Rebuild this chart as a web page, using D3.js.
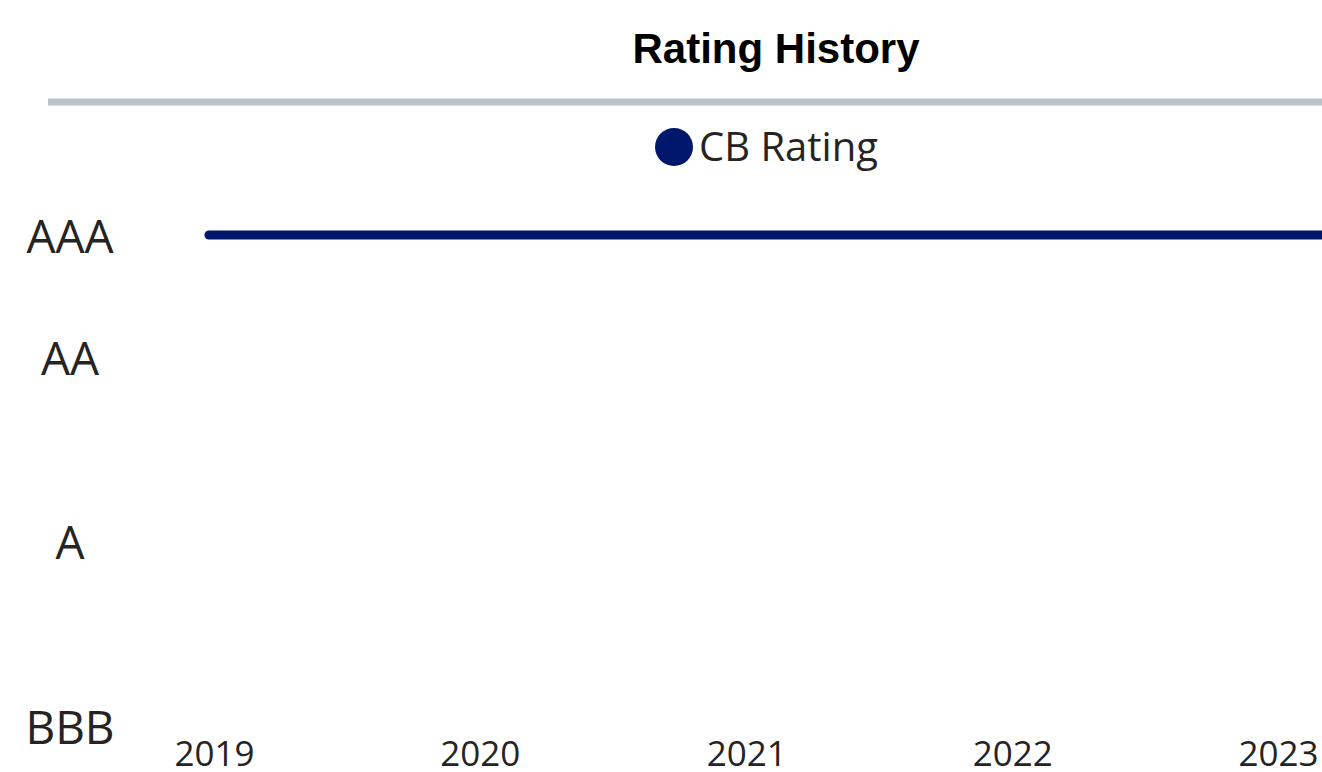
<!DOCTYPE html>
<html>
<head>
<meta charset="utf-8">
<script src="https://cdn.jsdelivr.net/npm/d3@7"></script>
<style>
  html, body { margin: 0; padding: 0; background: #fff; }
  svg { display: block; }
  .title { font-family: "Liberation Sans", Arial, sans-serif; font-weight: bold; }
  .lbl { font-family: "Segoe UI", "Open Sans", "Noto Sans", sans-serif; fill: #252423; }
</style>
</head>
<body>
<div id="chart"></div>
<script>
// rating notches, top to bottom
const ratingScale = ['AAA', 'AA+', 'AA', 'AA-', 'A+', 'A', 'A-', 'BBB+', 'BBB'];
const axisRatings = ['AAA', 'AA', 'A', 'BBB'];
const years = [2019, 2020, 2021, 2022, 2023];

// CB Rating series
const dates = ['2018-12-25', '2024-12-31'];
const ratings = ['AAA', 'AAA'];

const W = 1322, H = 772;
const NAVY = '#00176b';

const svg = d3.select('#chart').append('svg')
  .attr('width', W)
  .attr('height', H);

svg.append('text')
  .classed('title', true)
  .attr('x', 776).attr('y', 63)
  .attr('text-anchor', 'middle')
  .style('font-size', '42px')
  .text('Rating History');

svg.append('line')
  .attr('x1', 48).attr('x2', W + 10)
  .attr('y1', 102).attr('y2', 102)
  .attr('stroke', '#bac3c8')
  .attr('stroke-width', 7);

// legend
const legend = svg.append('g').attr('transform', 'translate(674, 147)');
legend.append('circle').attr('r', 19).attr('fill', NAVY);
legend.append('text')
  .classed('lbl', true)
  .attr('x', 25).attr('dy', '0.35em')
  .style('font-size', '40px')
  .text('CB Rating');

const parse = d3.timeParse('%Y-%m-%d');
const x = d3.scaleTime()
  .domain([new Date(2019, 0, 1), new Date(2023, 0, 1)])
  .range([214, 1278]);
const y = d3.scaleLinear()
  .domain([0, ratingScale.length - 1])
  .range([236, 727]);

const xg = svg.append('g')
  .attr('transform', 'translate(0, 766)')
  .call(d3.axisBottom(x)
    .tickValues(years.map(yr => new Date(yr, 0, 1)))
    .tickFormat(d3.timeFormat('%Y'))
    .tickSize(0));
xg.select('.domain').remove();
xg.selectAll('text')
  .attr('y', 0).attr('dy', null)
  .attr('class', 'lbl')
  .style('font-size', '35px');

const yg = svg.append('g')
  .attr('transform', 'translate(70, 0)')
  .call(d3.axisLeft(y)
    .tickValues(axisRatings.map(r => ratingScale.indexOf(r)))
    .tickFormat(i => ratingScale[i])
    .tickSize(0));
yg.select('.domain').remove();
yg.selectAll('text')
  .attr('x', 0).attr('dy', '0.35em')
  .attr('text-anchor', 'middle')
  .attr('class', 'lbl')
  .style('font-size', '46px');

const series = dates.map((d, i) => ({date: parse(d), rating: ratings[i]}));
const line = d3.line()
  .x(d => x(d.date))
  .y(d => y(ratingScale.indexOf(d.rating)) - 1);

svg.append('path')
  .datum(series)
  .attr('d', line)
  .attr('fill', 'none')
  .attr('stroke', NAVY)
  .attr('stroke-width', 9)
  .attr('stroke-linecap', 'round');
</script>
</body>
</html>
